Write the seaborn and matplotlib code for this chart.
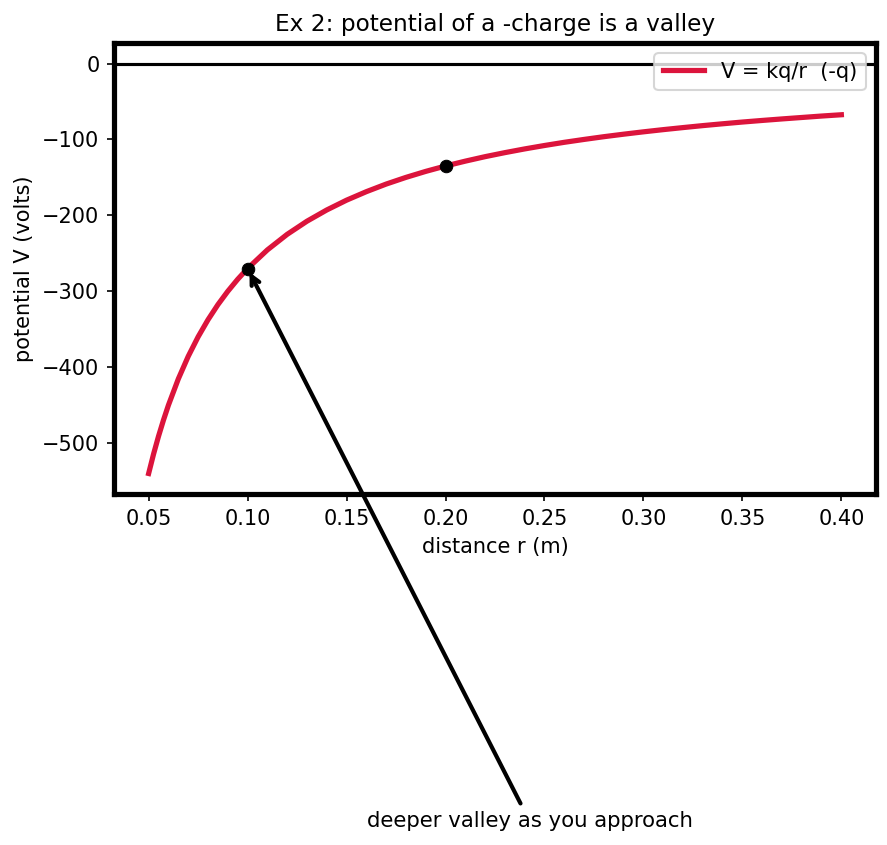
import matplotlib
matplotlib.use('Agg')
import matplotlib.pyplot as plt
import seaborn as sns
import pandas as pd

# values (distance in m, potential in volts)
r_m = [0.05, 0.0525, 0.055, 0.0575, 0.06, 0.065, 0.07, 0.075, 0.08, 0.085,
       0.09, 0.095, 0.10, 0.11, 0.12, 0.13, 0.14, 0.15, 0.16, 0.17,
       0.18, 0.19, 0.20, 0.21, 0.22, 0.23, 0.24, 0.25, 0.26, 0.27,
       0.28, 0.29, 0.30, 0.31, 0.32, 0.33, 0.34, 0.35, 0.36, 0.37,
       0.38, 0.39, 0.40]
v_volts = [-540, -514.3, -490.9, -469.6, -450, -415.4, -385.7, -360, -337.5, -317.6,
           -300, -284.2, -270, -245.5, -225, -207.7, -192.9, -180, -168.8, -158.8,
           -150, -142.1, -135, -128.6, -122.7, -117.4, -112.5, -108, -103.8, -100,
           -96.4, -93.1, -90, -87.1, -84.4, -81.8, -79.4, -77.1, -75, -73,
           -71.1, -69.2, -67.5]

# marked points
pt_r = [0.10, 0.20]
pt_v = [-270, -135]

curve_label = 'V = kq/r  (-q)'
note_text = 'deeper valley as you approach'

df = pd.DataFrame({'r': r_m, 'V': v_volts})
pts = pd.DataFrame({'r': pt_r, 'V': pt_v})

fig = plt.figure(figsize=(887 / 150, 845 / 150), dpi=150)
ax = fig.add_axes([114 / 887, 1 - 494 / 845, (876 - 114) / 887, (494 - 43) / 845])

ax.axhline(0, color='black', lw=1.5)
sns.lineplot(data=df, x='r', y='V', color='crimson', lw=2.5,
             label=curve_label, ax=ax)
sns.scatterplot(data=pts, x='r', y='V', color='black', s=36,
                edgecolor='black', zorder=5, ax=ax)

ax.annotate(note_text, xy=(pt_r[0], pt_v[0]), xytext=(0.2425, -1006),
            ha='center', fontsize=10.2, annotation_clip=False,
            arrowprops=dict(arrowstyle='->', color='black', lw=2))

for s in ax.spines.values():
    s.set_linewidth(2.5)

ax.set_xticks([0.05, 0.10, 0.15, 0.20, 0.25, 0.30, 0.35, 0.40])
ax.set_xlabel('distance r (m)')
ax.set_ylabel('potential V (volts)')
ax.set_title('Ex 2: potential of a -charge is a valley', fontsize=11.2)
ax.legend(loc='upper right')

fig.savefig('out.png', dpi=150)
